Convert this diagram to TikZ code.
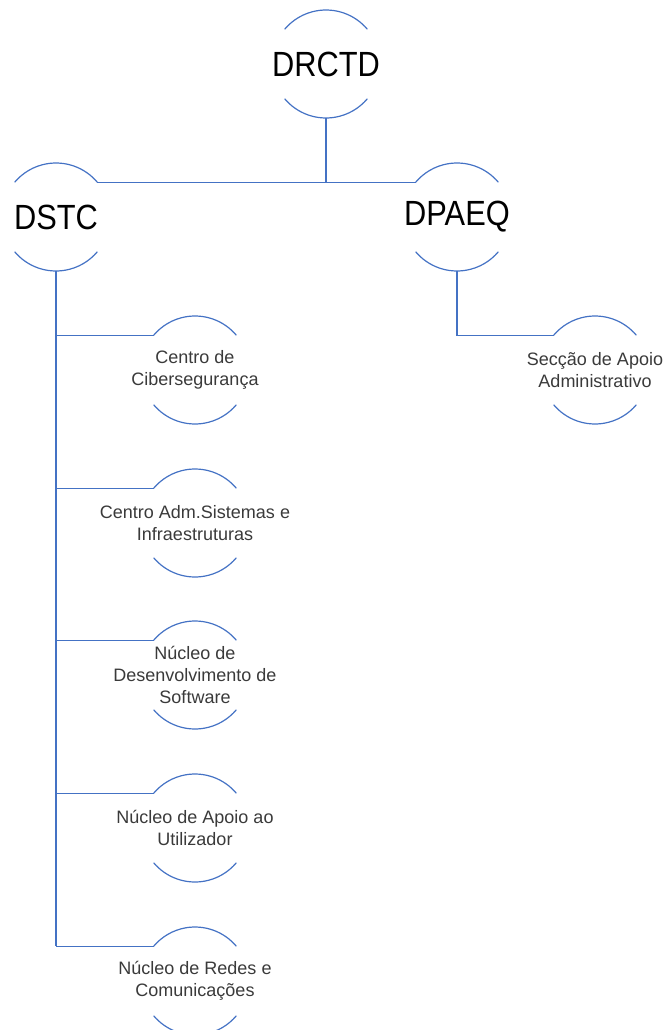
\documentclass[tikz,border=0pt]{standalone}
\usepackage{fontspec}
\setmainfont{Liberation Sans}
\newfontfamily\unitfont[FakeStretch=0.88]{Liberation Sans}
\definecolor{orgblue}{RGB}{68,114,196}
\definecolor{subgrey}{RGB}{58,58,58}
\begin{document}
\begin{tikzpicture}[x=1pt,y=1pt,
  ring/.style={circle,minimum size=108pt,inner sep=0pt,outer sep=0pt},
  unit/.style={align=center,font=\unitfont\fontsize{35}{40}\selectfont},
  sub/.style={align=center,text=subgrey,font=\fontsize{18}{22}\selectfont},
  link/.style={orgblue,line width=1.2pt}]
\useasboundingbox (0,0) rectangle (668,-1030);
% rings
\node[ring] (drctd) at (326,-64) {};
\node[ring] (dstc) at (56,-217) {};
\node[ring] (dpaeq) at (457,-217) {};
\node[ring] (c1) at (195,-370) {};
\node[ring] (c2) at (195,-523) {};
\node[ring] (c3) at (195,-675) {};
\node[ring] (c4) at (195,-828) {};
\node[ring] (c5) at (195,-981) {};
\node[ring] (s1) at (595,-370) {};
% texts
\node[unit] (drctdt) at (drctd) {DRCTD};
\node[unit] (dstct) at (dstc) {DSTC};
\node[unit] (dpaeqt) at (dpaeq) {DPAEQ};
\node[sub] (c1t) at (c1) {Centro de\\Cibersegurança};
\node[sub] (c2t) at (c2) {Centro Adm.Sistemas e\\Infraestruturas};
\node[sub] (c3t) at (c3) {Núcleo de\\Desenvolvimento de\\Software};
\node[sub] (c4t) at (c4) {Núcleo de Apoio ao\\Utilizador};
\node[sub] (c5t) at (c5) {Núcleo de Redes e\\Comunicações};
\node[sub] (s1t) at (s1) {Secção de Apoio\\Administrativo};
% arcs
\foreach \n in {drctd,dstc,dpaeq,c1,c2,c3,c4,c5,s1} {
  \draw[link] (\n.40) arc[start angle=40,end angle=140,radius=54pt];
  \draw[link] (\n.220) arc[start angle=220,end angle=320,radius=54pt];
}
% lines
\draw[link] (drctd.south) -- (drctd.south |- dstc.40);
\draw[link] (dstc.40) -- (dpaeq.140);
\draw[link] (dstc.south) -- (dstc.south |- c5.140);
\foreach \n in {c1,c2,c3,c4,c5}
  \draw[link] (dstc.south |- \n.140) -- (\n.140);
\draw[link] (dpaeq.south) |- (s1.140);
\end{tikzpicture}
\end{document}
